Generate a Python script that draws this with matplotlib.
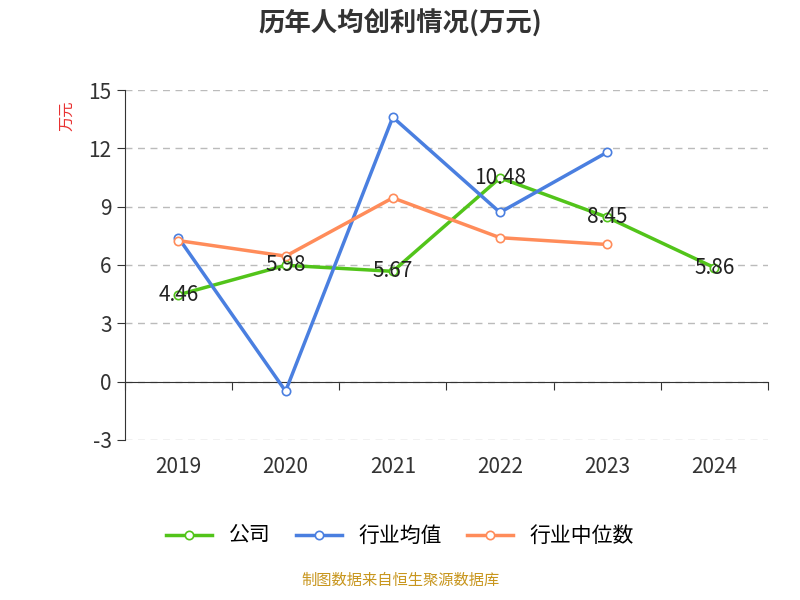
import matplotlib
matplotlib.use("Agg")
import matplotlib.pyplot as plt
plt.rcParams['font.family'] = ['Noto Sans CJK JP', 'Noto Sans CJK SC', 'Noto Sans CJK TC', 'DejaVu Sans']

years = ['2019', '2020', '2021', '2022', '2023', '2024']
company = [4.46, 5.98, 5.67, 10.48, 8.45, 5.86]
ind_mean = [7.4, -0.5, 13.6, 8.7, 11.8]
ind_median = [7.25, 6.45, 9.45, 7.4, 7.05]
yticks = [-3, 0, 3, 6, 9, 12, 15]

fig = plt.figure(figsize=(8, 6), dpi=100)
ax = fig.add_axes([0.156, 0.267, 0.804, 0.583])
x = list(range(len(years)))
ax.plot(x, company, color='#52c41a', lw=2.5, marker='o', ms=6, mfc='white', mew=1.2, label='公司', zorder=3)
ax.plot(x[:5], ind_mean, color='#4a7fe0', lw=2.5, marker='o', ms=6, mfc='white', mew=1.2, label='行业均值', zorder=3)
ax.plot(x[:5], ind_median, color='#ff8c5a', lw=2.5, marker='o', ms=6, mfc='white', mew=1.2, label='行业中位数', zorder=3)
for xi, v in zip(x, company):
    ax.text(xi, v, f'{v:.2f}', ha='center', va='center', fontsize=15, color='#222222', zorder=4)

ax.set_xlim(-0.5, 5.5)
ax.set_ylim(-3, 15)
ax.set_yticks(yticks)
ax.set_yticklabels([str(t) for t in yticks], fontsize=15, color='#333333')
ax.set_xticks([i - 0.5 for i in range(7)])
ax.set_xticklabels([])
ax.tick_params(axis='x', length=6, color='#333333')
for xi, lab in zip(x, years):
    ax.text(xi, -4.4, lab, ha='center', va='center', fontsize=15, color='#333333')
ax.tick_params(axis='y', length=6, color='#333333')
ax.grid(axis='y', ls=(0, (5, 4)), color='#bbbbbb', lw=1)
for s in ['top', 'right']:
    ax.spines[s].set_visible(False)
ax.spines['bottom'].set_position(('data', 0))
ax.spines['bottom'].set_color('#333333')
ax.spines['left'].set_color('#333333')
ax.text(-0.09, 0.97, '万元', transform=ax.transAxes, rotation=90, color='#e83030', fontsize=11, ha='center', va='top')

fig.text(0.5, 0.96, '历年人均创利情况(万元)', ha='center', va='center', fontsize=19, fontweight='bold', color='#333333')
fig.legend(loc='center', bbox_to_anchor=(0.5, 0.107), ncol=3, frameon=False, fontsize=15, handlelength=2.2, columnspacing=1.2)
fig.text(0.5, 0.018, '制图数据来自恒生聚源数据库', ha='center', va='bottom', fontsize=11, color='#c8961e')
fig.savefig('out.png')
